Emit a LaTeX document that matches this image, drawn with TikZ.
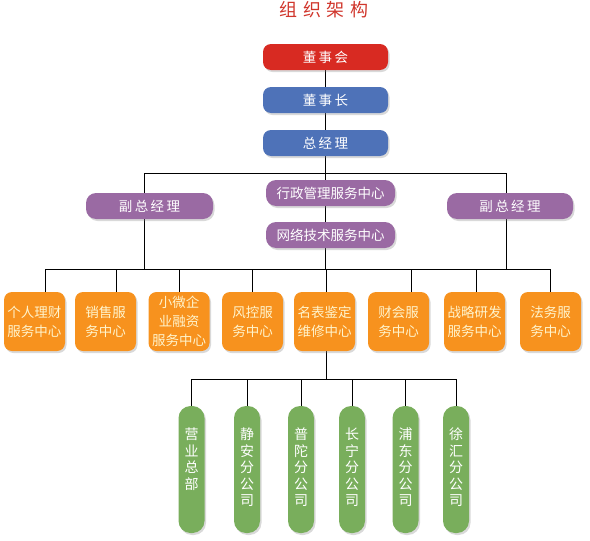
\documentclass[tikz,border=0pt]{standalone}
\usepackage{fontspec}
\setmainfont{Noto Sans CJK SC}
\newfontfamily\spacedfont[LetterSpace=18]{Noto Sans CJK SC}
\newfontfamily\titlefont[LetterSpace=30]{Noto Sans CJK SC}
\usetikzlibrary{shadows,backgrounds,calc}
\definecolor{titlered}{HTML}{D0362C}
\definecolor{boardred}{HTML}{D82A22}
\definecolor{chairblue}{HTML}{4E72B8}
\definecolor{vppurple}{HTML}{9A6AA3}
\definecolor{deptorange}{HTML}{F7921E}
\definecolor{depttext}{HTML}{FFF4CC}
\definecolor{branchgreen}{HTML}{79AE5C}
\newcommand{\branchcol}[1]{\parbox[t]{16pt}{\centering #1}}

\begin{document}
\begin{tikzpicture}[x=1pt, y=-1pt,
  box/.style={rounded corners=8pt, inner sep=0pt, text=white,
              drop shadow={opacity=0.3, shadow xshift=1.5pt, shadow yshift=-2pt}},
  topbox/.style={box, minimum width=125pt, minimum height=26pt,
                 font=\fontsize{13.5}{16}\spacedfont},
  leadbox/.style={box, rounded corners=10pt, fill=vppurple, minimum height=26pt},
  deptbox/.style={box, fill=deptorange, minimum width=61pt, minimum height=59pt,
                  align=center, text=depttext, font=\fontsize{13.5}{19}\selectfont},
  branchbox/.style={box, rounded corners=12pt, fill=branchgreen, minimum width=26pt,
                    text height=33.5pt, text depth=93.5pt,
                    font=\fontsize{14}{16.5}\selectfont},
  conn/.style={black, line width=0.8pt}
]
  \useasboundingbox (0,0) rectangle (590,541);

  \node[text=titlered, font=\fontsize{18}{20}\titlefont] (title) at (324,10) {组织架构};

  % top chain
  \node[topbox, fill=boardred] (dsh) at (325.5,57) {董事会};
  \node[topbox, fill=chairblue] (dsz) at (325.5,100) {董事长};
  \node[topbox, fill=chairblue] (zjl) at (325.5,143) {总经理};

  % middle level
  \node[leadbox, minimum width=127pt, font=\fontsize{13.5}{16}\spacedfont] (fz1) at (149.5,206) {副总经理};
  \node[leadbox, minimum width=126pt, font=\fontsize{13.5}{16}\spacedfont] (fz2) at (510,206) {副总经理};
  \node[leadbox, minimum width=129pt, font=\fontsize{13.5}{16}\selectfont] (xz) at (330.5,193) {行政管理服务中心};
  \node[leadbox, minimum width=129pt, font=\fontsize{13.5}{16}\selectfont] (wl) at (330.5,235) {网络技术服务中心};

  % service centres
  \node[deptbox] (o1) at (34.5,321.5) {个人理财\\服务中心};
  \node[deptbox] (o2) at (105.5,321.5) {销售服\\务中心};
  \node[deptbox] (o3) at (179,321.5) {小微企\\业融资\\服务中心};
  \node[deptbox] (o4) at (252.5,321.5) {风控服\\务中心};
  \node[deptbox] (o5) at (324.5,321.5) {名表鉴定\\维修中心};
  \node[deptbox] (o6) at (398.5,321.5) {财会服\\务中心};
  \node[deptbox] (o7) at (474.5,321.5) {战略研发\\服务中心};
  \node[deptbox] (o8) at (550.5,321.5) {法务服\\务中心};

  % branches
  \node[branchbox] (g1) at (191.5,469.5) {\branchcol{营\\业\\总\\部}};
  \node[branchbox] (g2) at (247,469.5) {\branchcol{静\\安\\分\\公\\司}};
  \node[branchbox] (g3) at (301,469.5) {\branchcol{普\\陀\\分\\公\\司}};
  \node[branchbox] (g4) at (352,469.5) {\branchcol{长\\宁\\分\\公\\司}};
  \node[branchbox] (g5) at (405.5,469.5) {\branchcol{浦\\东\\分\\公\\司}};
  \node[branchbox] (g6) at (456,469.5) {\branchcol{徐\\汇\\分\\公\\司}};

  \coordinate (busA) at (325,173);
  \coordinate (busB) at (325,269);
  \coordinate (busC) at (326,379);

  \begin{scope}[on background layer]
    \draw[conn] (dsh) -- (dsz);
    \draw[conn] (dsz) -- (zjl);
    \draw[conn] (zjl.south -| busB) -- (busB);
    \draw[conn] ([xshift=-5.5pt]fz1.center |- busA) -- ([xshift=-4pt]fz2.center |- busA);
    \draw[conn] ([xshift=-5.5pt]fz1.center |- busA) -- ([xshift=-5.5pt]fz1.center |- busB);
    \draw[conn] ([xshift=-4pt]fz2.center |- busA) -- ([xshift=-4pt]fz2.center |- busB);
    \draw[conn] ([xshift=10.5pt]o1.north |- busB) -- (o8.north |- busB);
    \foreach \i/\dx in {1/10.5,2/10.5,3/0,4/0,5/1.5,6/12.5,7/1.5,8/0}
      \draw[conn] ([xshift=\dx pt]o\i.north) -- ([xshift=\dx pt]o\i.north |- busB);
    \draw[conn] ([xshift=1.5pt]o5.south) -- (busC);
    \draw[conn] (g1.north |- busC) -- (g6.north |- busC);
    \foreach \i in {1,...,6}
      \draw[conn] (g\i.north) -- (g\i.north |- busC);
  \end{scope}
\end{tikzpicture}
\end{document}
